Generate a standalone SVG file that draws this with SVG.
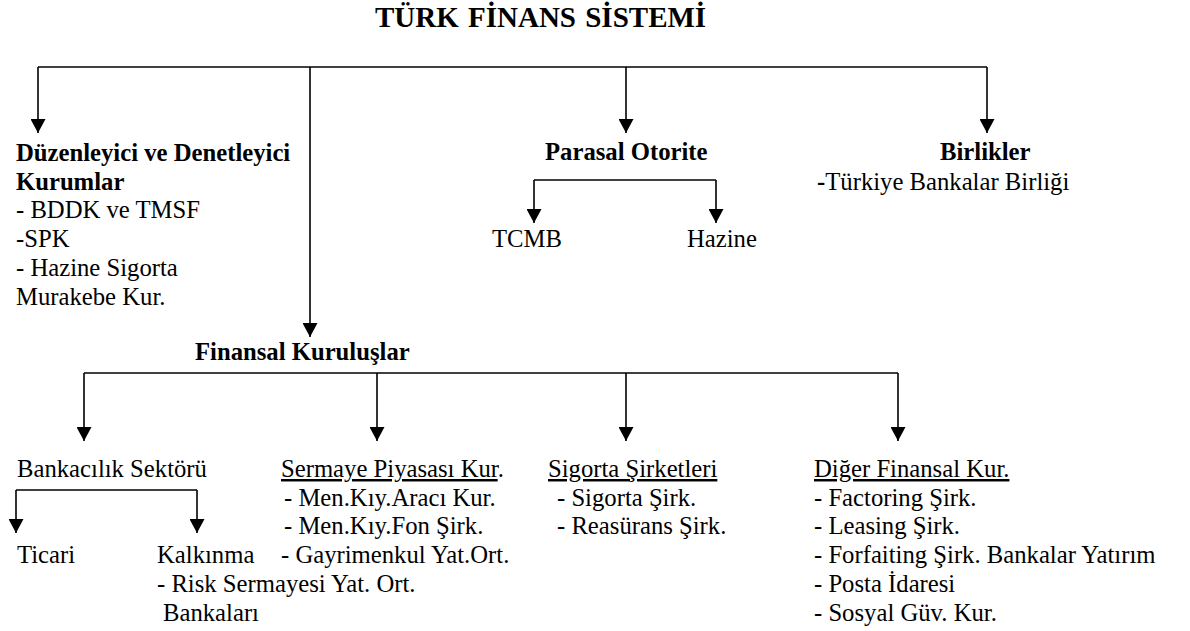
<svg xmlns="http://www.w3.org/2000/svg" width="1190" height="631" viewBox="0 0 1190 631" font-family="'Liberation Serif', 'Times New Roman', 'DejaVu Serif', serif">
<style>
text{font-family:'Liberation Serif','Times New Roman','DejaVu Serif',serif;font-size:24.7px;fill:#000}
.b{font-weight:bold}
.t{font-weight:bold;font-size:29px}
.u{text-decoration:underline}
.c{fill:none;stroke:#000;stroke-width:1.6}
</style>
<defs>
<marker id="ah" markerUnits="userSpaceOnUse" viewBox="0 0 14 15" refX="14" refY="7.5" markerWidth="14" markerHeight="15" orient="auto">
<path d="M0,0 L14,7.5 L0,15 Z" fill="#000"/>
</marker>
</defs>
<rect width="1190" height="631" fill="#fff"/>
<g id="connectors">
<path class="c" d="M38,67 H987"/>
<path class="c" d="M38,67 V133" marker-end="url(#ah)"/>
<path class="c" d="M310,67 V337" marker-end="url(#ah)"/>
<path class="c" d="M626,67 V133" marker-end="url(#ah)"/>
<path class="c" d="M987,67 V133" marker-end="url(#ah)"/>
<path class="c" d="M534,180 H716"/>
<path class="c" d="M534,180 V223" marker-end="url(#ah)"/>
<path class="c" d="M716,180 V223" marker-end="url(#ah)"/>
<path class="c" d="M84,373 H898"/>
<path class="c" d="M84,373 V441" marker-end="url(#ah)"/>
<path class="c" d="M377,373 V441" marker-end="url(#ah)"/>
<path class="c" d="M626,373 V441" marker-end="url(#ah)"/>
<path class="c" d="M898,373 V441" marker-end="url(#ah)"/>
<path class="c" d="M16,490 H197"/>
<path class="c" d="M16,490 V533" marker-end="url(#ah)"/>
<path class="c" d="M197,490 V533" marker-end="url(#ah)"/>
</g>
<g id="node-title"><text class="t" x="375" y="27" word-spacing="2">TÜRK FİNANS SİSTEMİ</text></g>
<g id="node-duzenleyici">
<text class="b" x="16" y="161">Düzenleyici ve Denetleyici</text>
<text class="b" x="16" y="189.7">Kurumlar</text>
<text x="16" y="218.4">- BDDK ve TMSF</text>
<text x="16" y="247.1">-SPK</text>
<text x="16" y="275.8">- Hazine Sigorta</text>
<text x="16" y="304.5">Murakebe Kur.</text>
</g>
<g id="node-parasal"><text class="b" x="545" y="160">Parasal Otorite</text></g>
<g id="node-tcmb"><text x="492" y="247.1">TCMB</text></g>
<g id="node-hazine"><text x="687" y="247.1">Hazine</text></g>
<g id="node-birlikler">
<text class="b" x="940" y="160">Birlikler</text>
<text x="817" y="189.7"><tspan class="b">-</tspan>Türkiye Bankalar Birliği</text>
</g>
<g id="node-finansal"><text class="b" x="195" y="360">Finansal Kuruluşlar</text></g>
<g id="node-bankacilik"><text x="17" y="477">Bankacılık Sektörü</text></g>
<g id="node-ticari"><text x="17" y="563.1">Ticari</text></g>
<g id="node-kalkinma">
<text x="157" y="563.1">Kalkınma</text>
<text x="163" y="620.5">Bankaları</text>
</g>
<g id="node-sermaye">
<text x="281" y="477"><tspan class="u">Sermaye Piyasası Kur</tspan>.</text>
<text x="284" y="505.7">- Men.Kıy.Aracı Kur.</text>
<text x="284" y="534.4">- Men.Kıy.Fon Şirk.</text>
<text x="281" y="563.1">- Gayrimenkul Yat.Ort.</text>
<text x="157" y="591.8">- Risk Sermayesi Yat. Ort.</text>
</g>
<g id="node-sigorta">
<text x="548" y="477"><tspan class="u">Sigorta Şirketleri</tspan></text>
<text x="557" y="505.7">- Sigorta Şirk.</text>
<text x="557" y="534.4">- Reasürans Şirk.</text>
</g>
<g id="node-diger">
<text x="814" y="477"><tspan class="u">Diğer Finansal Kur.</tspan></text>
<text x="814" y="505.7">- Factoring Şirk.</text>
<text x="814" y="534.4">- Leasing Şirk.</text>
<text x="814" y="563.1">- Forfaiting Şirk. Bankalar Yatırım</text>
<text x="814" y="591.8">- Posta İdaresi</text>
<text x="814" y="620.5">- Sosyal Güv. Kur.</text>
</g>
</svg>
